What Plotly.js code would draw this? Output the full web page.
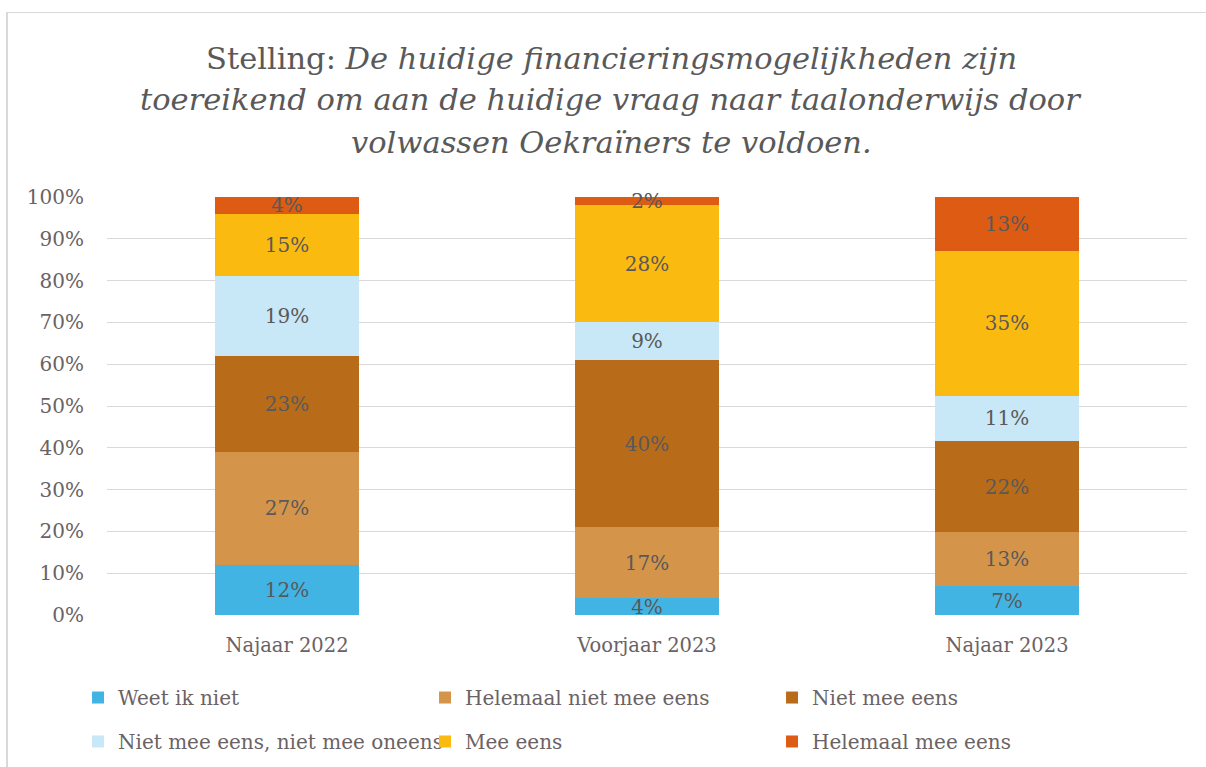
<!DOCTYPE html>
<html><head><meta charset="utf-8">
<script src="https://cdn.plot.ly/plotly-3.0.1.min.js"></script>
<style>
html,body{margin:0;padding:0;background:#fff;}
#wrap{position:relative;width:1206px;height:767px;overflow:hidden;}
#chart{width:1206px;height:767px;}
#frame{position:absolute;left:6px;top:12px;width:1200px;height:760px;border-left:2px solid #d9d9d9;border-top:1px solid #d9d9d9;pointer-events:none;}
</style></head>
<body><div id="wrap"><div id="chart"></div><div id="frame"></div></div>
<script>
const categories = ['Najaar 2022', 'Voorjaar 2023', 'Najaar 2023'];
const seriesNames = ['Weet ik niet', 'Helemaal niet mee eens', 'Niet mee eens', 'Niet mee eens, niet mee oneens', 'Mee eens', 'Helemaal mee eens'];
const weetIkNiet = [12, 4, 7];
const helemaalNietMeeEens = [27, 17, 13];
const nietMeeEens = [23, 40, 22];
const neutraal = [19, 9, 11];
const meeEens = [15, 28, 35];
const helemaalMeeEens = [4, 2, 13];
const colors = ['#41b4e4', '#d4954a', '#b86c19', '#c8e7f7', '#fbba10', '#dd5b13'];
const yTicks = [0,10,20,30,40,50,60,70,80,90,100];
const titleLines = [
  'Stelling: <i>De huidige financieringsmogelijkheden zijn</i>',
  '<i>toereikend om aan de huidige vraag naar taalonderwijs door</i>',
  '<i>volwassen Oekraïners te voldoen.</i>'
];

const allSeries = [weetIkNiet, helemaalNietMeeEens, nietMeeEens, neutraal, meeEens, helemaalMeeEens];
const FONT = 'DejaVu Serif, serif';
const traces = allSeries.map((vals, i) => ({
  type: 'bar', name: seriesNames[i], x: categories, y: vals,
  legend: i < 3 ? 'legend' : 'legend2',
  marker: {color: colors[i], line: {width: 0}},
  text: vals.map(v => v + '%'), texttemplate: '%{text}',
  textposition: 'inside', insidetextanchor: 'middle', constraintext: 'none',
  textfont: {family: FONT, size: 20, color: '#595959'},
  hoverinfo: 'skip', cliponaxis: false
}));

// title lines placed as annotations (paper coords of plot area 197..615 px tall)
const titleY = [1.3325, 1.2321, 1.1292];
const annotations = titleLines.map((t, i) => ({
  text: t, xref: 'paper', yref: 'paper', x: 0.4667, y: titleY[i],
  xanchor: 'center', yanchor: 'middle', showarrow: false,
  font: {family: FONT, size: 30.5, color: '#595959'}
}));

const legendCommon = {
  orientation: 'h', xref: 'container', yref: 'container', x: 0.0647, xanchor: 'left', yanchor: 'top',
  font: {family: FONT, size: 20, color: '#6b6264'},
  entrywidth: 302, entrywidthmode: 'pixels', traceorder: 'normal', itemclick: false, bgcolor: 'rgba(0,0,0,0)'
};

const layout = {
  width: 1206, height: 767,
  paper_bgcolor: '#fff', plot_bgcolor: '#fff',
  barmode: 'stack', barnorm: 'percent', bargap: 0.6,
  uniformtext: {mode: 'show', minsize: 20},
  margin: {l: 107, r: 19, t: 197, b: 152},
  font: {family: FONT, color: '#595959'},
  annotations: annotations,
  xaxis: {
    type: 'category', showgrid: false, zeroline: false, showline: false, ticks: '',
    tickfont: {family: FONT, size: 19.5, color: '#6b6264'}, ticklabelstandoff: 16
  },
  yaxis: {
    range: [0, 100], tickvals: yTicks, ticktext: yTicks.map(v => v + '%'),
    showgrid: true, gridcolor: '#d9d9d9', gridwidth: 1, zeroline: false, showline: false, ticks: '',
    tickfont: {family: FONT, size: 20, color: '#6b6264'}, ticklabelstandoff: 22
  },
  legend: Object.assign({}, legendCommon, {y: 0.1160}),
  legend2: Object.assign({}, legendCommon, {y: 0.0587}),
  showlegend: true
};
Plotly.newPlot('chart', traces, layout, {displayModeBar: false, staticPlot: true});
</script></body></html>
